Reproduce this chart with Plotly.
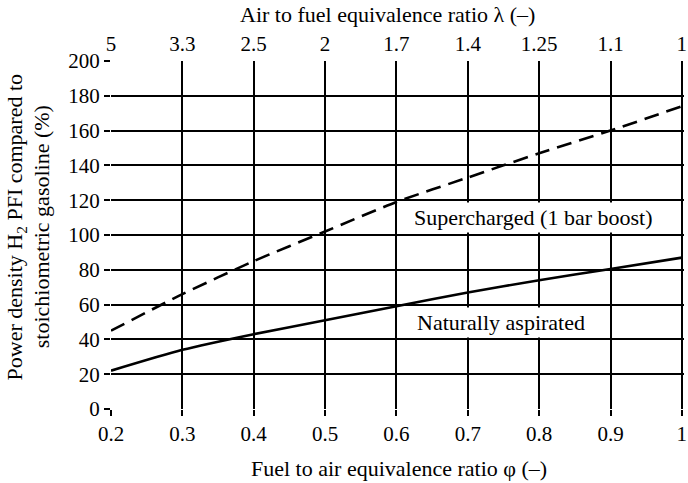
import plotly.graph_objects as go

# Fuel to air equivalence ratio (phi) sample points
phi = [0.2, 0.3, 0.4, 0.5, 0.6, 0.7, 0.8, 0.9, 1.0]
# Power density relative to stoichiometric gasoline (%)
naturally_aspirated = [22, 34, 43, 51, 59, 67, 74, 80.5, 87]
supercharged = [45, 66, 85, 102, 119, 133, 147, 160, 174]

# Top axis: air to fuel equivalence ratio lambda = 1/phi
lambda_tick_pos = [0.2, 0.3, 0.4, 0.5, 0.6, 0.7, 0.8, 0.9, 1.0]
lambda_tick_text = ["5", "3.3", "2.5", "2", "1.7", "1.4", "1.25", "1.1", "1"]

x_ticks = [0.2, 0.3, 0.4, 0.5, 0.6, 0.7, 0.8, 0.9, 1.0]
x_tick_text = ["0.2", "0.3", "0.4", "0.5", "0.6", "0.7", "0.8", "0.9", "1"]
y_ticks = list(range(0, 201, 20))

FONT = "Liberation Serif, Times New Roman, serif"
FS_TICK = 21
FS_TEXT = 22
X_RANGE = [0.2, 1.003]

fig = go.Figure()
fig.add_trace(go.Scatter(
    x=phi, y=supercharged, mode="lines",
    line=dict(color="black", width=2.6, dash="15px,8px", shape="spline", smoothing=0.6),
    showlegend=False, hoverinfo="skip"))
fig.add_trace(go.Scatter(
    x=phi, y=naturally_aspirated, mode="lines",
    line=dict(color="black", width=2.6, shape="spline", smoothing=0.6),
    showlegend=False, hoverinfo="skip"))
# invisible trace to activate the top axis
fig.add_trace(go.Scatter(x=[0.2, 1.0], y=[0, 0], xaxis="x2", mode="lines",
                         line=dict(width=0), showlegend=False, hoverinfo="skip"))

fig.update_layout(
    width=688, height=483,
    margin=dict(l=111, r=1, t=61, b=74),
    paper_bgcolor="white", plot_bgcolor="white",
    font=dict(family=FONT, size=FS_TEXT, color="black"),
    xaxis=dict(range=X_RANGE, tickvals=x_ticks, ticktext=x_tick_text,
               showgrid=True, gridcolor="black", gridwidth=1.5,
               ticks="outside", ticklen=6, tickwidth=1.5, tickcolor="black",
               zeroline=False, showline=False, ticklabeloverflow="allow",
               tickfont=dict(family=FONT, size=FS_TICK)),
    xaxis2=dict(range=X_RANGE, overlaying="x", side="top",
                tickvals=lambda_tick_pos, ticktext=lambda_tick_text,
                showgrid=False, zeroline=False, showline=False,
                ticks="outside", ticklen=1, tickcolor="rgba(0,0,0,0)",
                ticklabeloverflow="allow",
                tickfont=dict(family=FONT, size=FS_TICK)),
    yaxis=dict(range=[0, 200], tickvals=y_ticks,
               showgrid=True, gridcolor="black", gridwidth=1.5,
               ticks="outside", ticklen=6, tickwidth=1.5, tickcolor="black",
               zeroline=False, showline=False,
               tickfont=dict(family=FONT, size=FS_TICK)),
)

ann = []
ann.append(dict(text="Supercharged (1 bar boost)", x=0.791, y=110.3, xref="x", yref="y",
                showarrow=False, bgcolor="white", borderpad=2,
                font=dict(family=FONT, size=FS_TEXT)))
ann.append(dict(text="Naturally aspirated", x=0.746, y=49.6, xref="x", yref="y",
                showarrow=False, bgcolor="white", borderpad=2,
                font=dict(family=FONT, size=FS_TEXT)))
ann.append(dict(text="Fuel to air equivalence ratio \u03c6 (\u2013)", x=0.502, y=-0.17,
                xref="paper", yref="paper", showarrow=False, yanchor="middle",
                font=dict(family=FONT, size=FS_TEXT)))
ann.append(dict(text="Air to fuel equivalence ratio \u03bb (\u2013)", x=0.483, y=1.133,
                xref="paper", yref="paper", showarrow=False, yanchor="middle",
                font=dict(family=FONT, size=FS_TEXT)))
ann.append(dict(text="Power density H<sub>2</sub> PFI compared to", x=-0.165, y=0.523,
                xref="paper", yref="paper", showarrow=False, textangle=-90,
                xanchor="center", yanchor="middle", font=dict(family=FONT, size=FS_TEXT)))
ann.append(dict(text="stoichiometric gasoline (%)", x=-0.12, y=0.523,
                xref="paper", yref="paper", showarrow=False, textangle=-90,
                xanchor="center", yanchor="middle", font=dict(family=FONT, size=FS_TEXT)))
fig.update_layout(annotations=ann)

fig.write_html("out.html")
